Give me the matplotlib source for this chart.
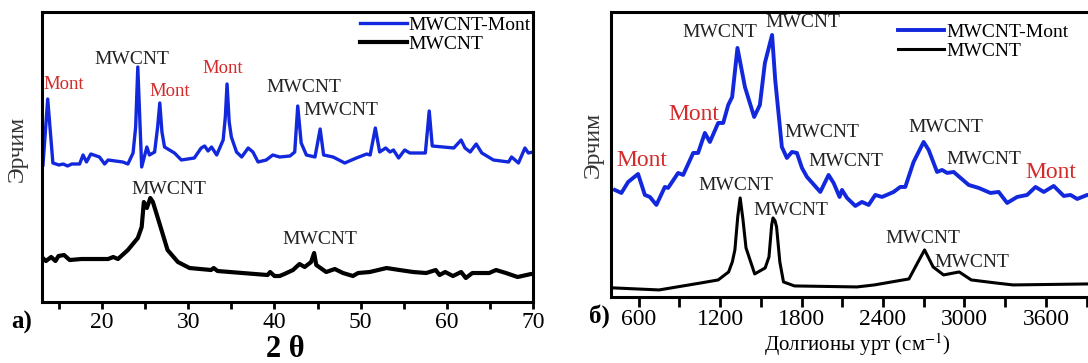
import matplotlib.pyplot as plt
from matplotlib.ticker import MultipleLocator

plt.rcParams['font.family'] = ['Liberation Serif', 'DejaVu Serif']
plt.rcParams['mathtext.fontset'] = 'stix'

# Data: a) XRD
xrd_x_mont = [13.15, 13.7, 14.3, 15.0, 15.5, 16.0, 16.5, 17.4, 17.8, 18.2, 18.7, 19.7, 20.3, 20.7,
              22.4, 23.0, 23.6, 23.9, 24.15, 24.35, 24.6, 25.2, 25.5, 26.1, 26.45, 26.7, 26.95,
              27.25, 28.4, 29.2, 30.7, 31.5, 31.9, 32.3, 32.7, 33.3, 34.05, 34.3, 34.5, 34.75,
              35.0, 35.6, 36.2, 36.95, 37.5, 38.1, 39.05, 39.8, 40.6, 41.8, 42.35, 42.7, 43.1,
              43.7, 44.7, 45.3, 45.7, 46.8, 48.15, 49.5, 50.7, 51.1, 51.7, 52.2, 52.9, 53.4,
              53.8, 54.4, 55.1, 55.7, 57.5, 57.95, 58.3, 60.8, 61.65, 62.1, 62.7, 63.4, 64.05,
              65.4, 67.15, 67.5, 68.3, 69.05, 69.45, 70.0]
xrd_y_mont = [137, 203, 139, 137, 138, 136, 138, 138, 147, 140, 148, 145, 138, 142,
              140, 138, 149, 175, 235, 190, 135, 155, 147, 150, 175, 199, 170,
              155, 149, 142, 144, 154, 156, 151, 155, 147, 162, 185, 218, 180,
              165, 150, 145, 154, 150, 140, 142, 147, 145, 146, 150, 196, 159,
              147, 145, 173, 147, 145, 139, 144, 148, 147, 174, 150, 154, 150,
              152, 144, 152, 149, 149, 191, 156, 154, 162, 154, 150, 158, 149,
              142, 140, 145, 139, 154, 149, 150]
xrd_x_cnt = [13.0, 13.5, 14.1, 14.6, 14.95, 15.6, 16.25, 17.6, 20.7, 21.3, 21.85, 23.0, 24.15,
             24.6, 24.85, 25.2, 25.6, 25.9, 26.65, 27.6, 28.8, 30.15, 32.65, 32.95, 33.4, 39.2,
             39.5, 40.0, 40.6, 41.15, 42.15, 42.9, 43.5, 44.25, 44.6, 44.85, 46.0, 47.0, 47.95,
             49.1, 49.7, 51.05, 53.0, 54.5, 56.1, 57.6, 58.7, 59.15, 59.8, 60.7, 61.65, 62.2,
             62.95, 64.9, 65.7, 66.85, 68.2, 69.75, 70.0]
xrd_y_cnt = [45, 41, 45, 41, 46, 47, 42, 43, 43, 45, 43, 52, 64,
             75, 100, 94, 104, 100, 79, 52, 40, 34, 32, 34, 31, 27,
             30, 26, 26, 28, 32, 38, 35, 40, 49, 37, 30, 33, 29,
             26, 29, 30, 34, 32, 30, 29, 32, 27, 30, 26, 30, 24,
             29, 29, 32, 29, 25, 28, 28]

# Data: б) Raman
ram_x_mont = [425, 473, 523, 596, 646, 683, 731, 793, 817, 891, 928, 1002, 1038, 1088, 1125,
              1186, 1223, 1260, 1289, 1328, 1383, 1451, 1493, 1530, 1583, 1606, 1655, 1692,
              1729, 1766, 1803, 1840, 1938, 1999, 2036, 2080, 2098, 2135, 2196, 2245, 2294,
              2343, 2393, 2478, 2527, 2564, 2625, 2699, 2736, 2798, 2835, 2872, 2920, 3031,
              3105, 3191, 3252, 3314, 3388, 3461, 3523, 3584, 3657, 3731, 3781, 3830, 3904, 4000]
ram_y_mont = [107, 104, 115, 123, 102, 100, 92, 110, 109, 124, 122, 144, 144, 164, 155,
              174, 174, 192, 200, 249, 210, 180, 192, 234, 262, 217, 150, 139,
              145, 144, 129, 120, 105, 122, 114, 100, 107, 99, 91, 95, 92,
              102, 100, 105, 110, 110, 135, 155, 147, 125, 127, 124, 125, 112,
              109, 104, 105, 94, 100, 102, 110, 105, 111, 101, 102, 98, 102, 102]
ram_x_cnt = [419, 751, 1059, 1186, 1263, 1290, 1309, 1330, 1348, 1368, 1391, 1455, 1532, 1560,
             1580, 1590, 1605, 1616, 1640, 1667, 1748, 2208, 2336, 2463, 2591, 2654, 2706,
             2769, 2846, 2961, 3050, 3228, 3357, 3913, 4000]
ram_y_cnt = [9, 7, 14, 17, 25, 35, 47, 80, 99, 78, 49, 23, 29, 40,
             72, 79, 76, 70, 35, 15, 11, 10, 12, 15, 18, 34, 47,
             30, 22, 25, 17, 14, 12, 13, 13]

# Peak labels
xrd_lbl_x = [15.6, 23.5, 27.9, 34.0, 43.4, 47.7, 27.7, 45.3]
xrd_lbl_y = [217, 242, 210, 233, 214, 191, 113, 63]
xrd_lbl = ['Mont', 'MWCNT', 'Mont', 'Mont', 'MWCNT', 'MWCNT', 'MWCNT', 'MWCNT']
ram_lbl_x = [1201, 1812, 1009, 626, 1952, 2129, 2859, 3139, 3637, 1314, 1723, 2693, 3051]
ram_lbl_y = [264, 274, 182, 136, 164, 135, 169, 137, 124, 111, 86, 58, 34]
ram_lbl = ['MWCNT', 'MWCNT', 'Mont', 'Mont', 'MWCNT', 'MWCNT', 'MWCNT', 'MWCNT', 'Mont',
           'MWCNT', 'MWCNT', 'MWCNT', 'MWCNT']

blue = '#1228dc'
red = '#d42a2a'

fig = plt.figure(figsize=(10.88, 3.63), dpi=100)
ax1 = fig.add_axes([0.0383, 0.168, 0.4517, 0.799])
ax2 = fig.add_axes([0.562, 0.182, 0.468, 0.785])

# a) XRD panel
ax1.plot(xrd_x_mont, xrd_y_mont, color=blue, lw=2.4, label='MWCNT-Mont')
ax1.plot(xrd_x_cnt, xrd_y_cnt, color='black', lw=3.0, label='MWCNT')
ax1.set_xlim(13, 70)
ax1.set_ylim(0, 290)
ax1.xaxis.set_major_locator(MultipleLocator(10))
ax1.xaxis.set_minor_locator(MultipleLocator(5))
ax1.tick_params(axis='x', which='both', direction='out', length=5, width=2, labelsize=17, pad=2)
for t, x, y in zip(xrd_lbl, xrd_lbl_x, xrd_lbl_y):
    ax1.text(x, y, t, ha='center', va='center', fontsize=13.5 if t == 'Mont' else 14,
             color=red if t == 'Mont' else '#222222')
ax1.legend(loc='upper left', bbox_to_anchor=(0.331, 0.955), bbox_transform=fig.transFigure,
           frameon=False, fontsize=14, handlelength=2.4, handletextpad=0.1,
           labelspacing=0.05, borderpad=0, borderaxespad=0)

# б) Raman panel
ax2.plot(ram_x_mont, ram_y_mont, color=blue, lw=2.8, label='MWCNT-Mont')
ax2.plot(ram_x_cnt, ram_y_cnt, color='black', lw=2.2, label='MWCNT')
ax2.set_xlim(400, 4150)
ax2.set_ylim(0, 285)
ax2.xaxis.set_major_locator(MultipleLocator(600))
ax2.xaxis.set_minor_locator(MultipleLocator(300))
ax2.tick_params(axis='x', which='both', direction='out', length=7, width=2, labelsize=17, pad=2)
for t, x, y in zip(ram_lbl, ram_lbl_x, ram_lbl_y):
    ax2.text(x, y, t, ha='center', va='center', fontsize=17 if t == 'Mont' else 14,
             color=red if t == 'Mont' else '#222222')
ax2.legend(loc='upper left', bbox_to_anchor=(0.825, 0.935), bbox_transform=fig.transFigure,
           frameon=False, fontsize=14, handlelength=2.4, handletextpad=0.1,
           labelspacing=0.05, borderpad=0, borderaxespad=0)

for ax in (ax1, ax2):
    ax.set_yticks([])
    for s in ax.spines.values():
        s.set_linewidth(2.2)

# Axis labels and panel letters
fig.text(0.0156, 0.59, 'Эрчим', rotation=90, ha='center', va='center', fontsize=17, color='#333333')
fig.text(0.545, 0.60, 'Эрчим', rotation=90, ha='center', va='center', fontsize=17, color='#333333')
fig.text(0.262, 0.036, '2 θ', ha='center', va='center', fontsize=22, fontweight='bold')
fig.text(0.788, 0.05, 'Долгионы урт (см$^{-1}$)', ha='center', va='center', fontsize=15)
fig.text(0.020, 0.113, 'а)', ha='center', va='center', fontsize=18, fontweight='bold')
fig.text(0.551, 0.13, 'б)', ha='center', va='center', fontsize=18, fontweight='bold')

plt.savefig('out.png', dpi=100)
